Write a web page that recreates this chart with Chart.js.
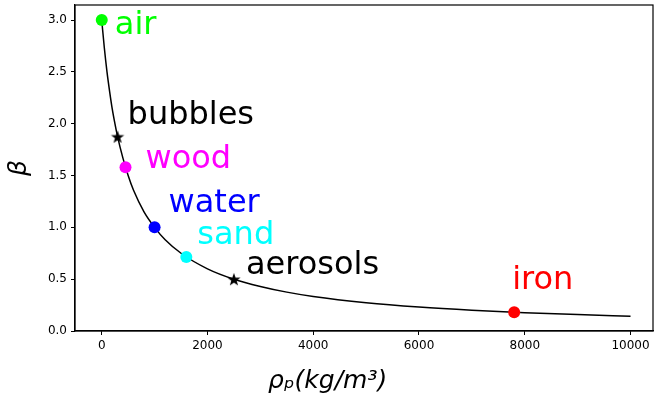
<!DOCTYPE html>
<html>
<head>
<meta charset="utf-8">
<script src="https://cdn.jsdelivr.net/npm/chart.js@4/dist/chart.umd.min.js"></script>
<style>
  html, body { margin: 0; padding: 0; background: #fff; }
  #wrap { width: 654px; height: 401px; }
</style>
</head>
<body>
<div id="wrap"><canvas id="chart" width="654" height="401"></canvas></div>
<script>
// curve beta(rho_p)
var curveRho = [0, 50, 100, 150, 200, 250, 300, 400, 500, 600, 800, 1000, 1200, 1500, 2000, 2500, 3000, 3500, 4000, 5000, 6000, 7000, 8000, 9000, 10000];
var curveBeta = [3.0, 2.73, 2.5, 2.31, 2.14, 2.0, 1.875, 1.67, 1.5, 1.36, 1.15, 1.0, 0.88, 0.75, 0.6, 0.5, 0.43, 0.375, 0.333, 0.273, 0.231, 0.2, 0.176, 0.158, 0.143];

// marked materials
var materials = ['air', 'bubbles', 'wood', 'water', 'sand', 'aerosols', 'iron'];
var materialRho = [1.2, 300, 450, 1000, 1600, 2500, 7800];
var materialBeta = [3.0, 1.875, 1.58, 1.0, 0.714, 0.5, 0.18];

// axis ticks
var xTicks = [0, 2000, 4000, 6000, 8000, 10000];
var yTicks = [0.0, 0.5, 1.0, 1.5, 2.0, 2.5, 3.0];

// styles
var materialColors = ['#00ff00', '#000000', '#ff00ff', '#0000ff', '#00ffff', '#000000', '#ff0000'];
var materialMarkers = ['circle', 'star', 'circle', 'circle', 'circle', 'star', 'circle'];
// label offset from the marker, px (dx to left edge, dy to baseline)
var labelOffsets = [[13, 14], [10, -13], [20, 1], [14, -15], [11, -13], [12, -5], [-2, -23]];

var FONT = "'DejaVu Sans', sans-serif";

function makeStar(r) {
    var size = Math.ceil(r * 2 + 2);
    var c = document.createElement('canvas');
    c.width = size;
    c.height = size;
    var ctx = c.getContext('2d');
    var cx = size / 2, cy = size / 2 + r * 0.1, ri = r * 0.4;
    ctx.beginPath();
    for (var i = 0; i < 10; i++) {
        var rad = (i % 2 === 0) ? r : ri;
        var a = -Math.PI / 2 + i * Math.PI / 5;
        var px = cx + rad * Math.cos(a), py = cy + rad * Math.sin(a);
        if (i === 0) ctx.moveTo(px, py); else ctx.lineTo(px, py);
    }
    ctx.closePath();
    ctx.fillStyle = '#000';
    ctx.fill();
    return c;
}

var star = makeStar(7);

var curveData = curveRho.map(function(x, i) { return {x: x, y: curveBeta[i]}; });
var pointData = materialRho.map(function(x, i) { return {x: x, y: materialBeta[i]}; });

var labelPlugin = {
    id: 'labels',
    afterDatasetsDraw: function(chart) {
        var ctx = chart.ctx;
        var xs = chart.scales.x, ys = chart.scales.y;
        ctx.save();
        ctx.font = '32px ' + FONT;
        ctx.textBaseline = 'alphabetic';
        ctx.textAlign = 'left';
        materials.forEach(function(name, i) {
            var px = xs.getPixelForValue(materialRho[i]);
            var py = ys.getPixelForValue(materialBeta[i]);
            ctx.fillStyle = materialColors[i];
            ctx.fillText(name, px + labelOffsets[i][0], py + labelOffsets[i][1]);
        });
        ctx.restore();
    },
    afterDraw: function(chart) {
        var ctx = chart.ctx;
        var a = chart.chartArea;
        ctx.save();
        // full frame
        ctx.strokeStyle = '#000';
        ctx.lineWidth = 1.2;
        ctx.strokeRect(a.left, a.top, a.right - a.left, a.bottom - a.top);
        // axis titles
        ctx.fillStyle = '#000';
        ctx.font = 'italic 25px ' + FONT;
        ctx.textAlign = 'left';
        ctx.textBaseline = 'alphabetic';
        ctx.fillText('\u03c1\u209a(kg/m\u00b3)', 268, 388);
        ctx.translate(26, 168);
        ctx.rotate(-Math.PI / 2);
        ctx.textAlign = 'center';
        ctx.fillText('\u03b2', 0, 0);
        ctx.restore();
    }
};

new Chart(document.getElementById('chart'), {
    type: 'scatter',
    data: {
        datasets: [{
            label: 'materials',
            data: pointData,
            showLine: false,
            pointRadius: 6,
            pointHoverRadius: 6,
            borderWidth: 0,
            pointBackgroundColor: materialColors,
            pointBorderColor: materialColors,
            pointStyle: materialMarkers.map(function(m) { return m === 'star' ? star : 'circle'; }),
        }, {
            label: 'beta',
            data: curveData,
            showLine: true,
            borderColor: '#000',
            borderWidth: 1.5,
            pointRadius: 0,
            fill: false,
            cubicInterpolationMode: 'monotone',
        }],
    },
    options: {
        responsive: false,
        animation: false,
        events: [],
        layout: {autoPadding: false, padding: {left: 0, top: 5, right: 1, bottom: 0}},
        plugins: {
            legend: {display: false},
            tooltip: {enabled: false},
        },
        scales: {
            x: {
                type: 'linear',
                min: -505,
                max: 10425,
                afterBuildTicks: function(scale) {
                    scale.ticks = xTicks.map(function(v) { return {value: v}; });
                },
                afterFit: function(scale) {
                    scale.height = 70;
                    scale.paddingLeft = 0;
                    scale.paddingRight = 0;
                },
                ticks: {
                    color: '#000',
                    font: {family: FONT, size: 12},
                    padding: 4,
                    maxRotation: 0,
                    callback: function(v) { return String(v); },
                },
                grid: {display: true, drawOnChartArea: false, drawTicks: true, tickLength: 4, color: '#000', tickWidth: 1},
                border: {display: true, color: '#000', width: 1.2},
            },
            y: {
                type: 'linear',
                min: 0,
                max: 3.145,
                afterBuildTicks: function(scale) {
                    scale.ticks = yTicks.map(function(v) { return {value: v}; });
                },
                afterFit: function(scale) {
                    scale.width = 75;
                    scale.paddingTop = 0;
                    scale.paddingBottom = 0;
                },
                ticks: {
                    color: '#000',
                    font: {family: FONT, size: 12},
                    padding: 4,
                    callback: function(v) { return v.toFixed(1); },
                },
                grid: {display: true, drawOnChartArea: false, drawTicks: true, tickLength: 4, color: '#000', tickWidth: 1},
                border: {display: true, color: '#000', width: 1.2},
            },
        },
    },
    plugins: [labelPlugin],
});
</script>
</body>
</html>
